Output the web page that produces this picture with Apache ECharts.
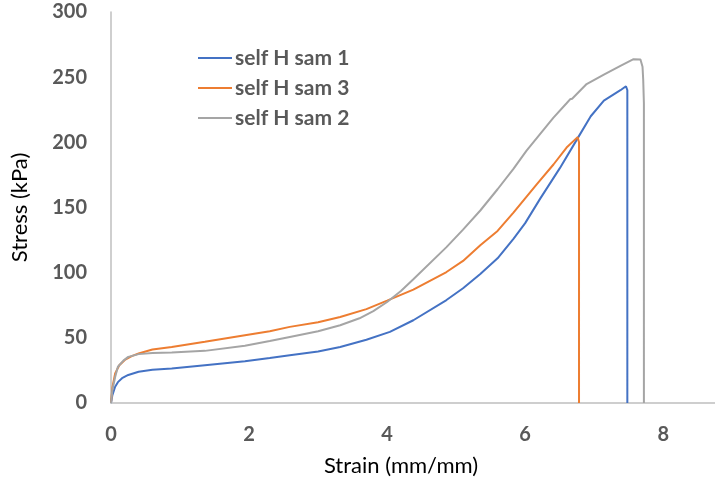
<!DOCTYPE html>
<html>
<head>
<meta charset="utf-8">
<script src="https://cdn.jsdelivr.net/npm/echarts@6/dist/echarts.min.js"></script>
<style>html,body{margin:0;padding:0;background:#fff}#c{width:715px;height:483px}</style>
</head>
<body>
<div id="c"></div>
<script>
// Series data: [strain (mm/mm), stress (kPa)]
var sam1 = [[0,0],[0.02,6],[0.06,12.5],[0.1,16],[0.16,19],[0.25,21.5],[0.4,24],[0.6,25.5],[0.88,26.5],[1.36,29],[1.94,32],[2.3,34.5],[2.59,36.7],[3.0,39.5],[3.32,43],[3.7,48.5],[4.04,54.6],[4.38,63.5],[4.86,79],[5.1,88],[5.35,99],[5.6,111],[5.83,126],[6.0,138],[6.22,157],[6.5,180],[6.77,204],[6.95,220],[7.14,232],[7.38,240],[7.46,243],[7.48,240],[7.48,0]];
var sam3 = [[0,0],[0.02,12],[0.06,22.7],[0.12,29],[0.2,33],[0.3,36],[0.4,38],[0.6,41],[0.88,43],[1.36,47],[1.94,52],[2.3,55],[2.59,58.4],[3.0,62],[3.32,66],[3.7,72],[4.0,78.5],[4.38,87],[4.86,100.5],[5.1,109],[5.35,121],[5.6,132],[5.83,146],[6.0,157],[6.17,168],[6.41,183],[6.6,196],[6.76,204],[6.78,200],[6.78,0]];
var sam2 = [[0,0],[0.02,10],[0.06,20],[0.1,27.8],[0.18,32.5],[0.25,35.4],[0.4,37.5],[0.6,38.3],[0.88,38.8],[1.36,40],[1.94,44],[2.3,47.5],[2.59,50.7],[3.0,55],[3.32,59.7],[3.6,65],[3.8,70.5],[4.0,77.5],[4.2,86],[4.38,95],[4.86,119.6],[5.1,133],[5.35,147.7],[5.6,164],[5.83,179.6],[6.02,193.6],[6.41,219],[6.6,230],[6.65,233],[6.68,233.5],[6.89,244.7],[7.14,252],[7.38,258.7],[7.57,263.8],[7.67,263.5],[7.7,258],[7.71,248],[7.72,230],[7.72,0]];
var seriesNames = ['self H sam 1','self H sam 3','self H sam 2'];
var seriesColors = ['#4472C4','#ED7D31','#A5A5A5'];
var xTicks = [0,2,4,6,8];
var yTicks = [0,50,100,150,200,250,300];

var chart = echarts.init(document.getElementById('c'));
var FONT = 'Lato';
chart.setOption({
  animation: false,
  textStyle: {fontFamily: FONT},
  grid: {left: 111, right: 0, top: 12, bottom: 80},
  legend: {
    orient: 'vertical', left: 198, top: 47, icon: 'rect', padding: 0,
    itemWidth: 34, itemHeight: 2, itemGap: 8,
    textStyle: {fontFamily: FONT, fontWeight: 'bold', fontSize: 21, color: '#595959', lineHeight: 22, padding: [0,0,0,-2]},
    data: seriesNames
  },
  xAxis: {
    type: 'value', min: 0, max: 8.75, interval: 2,
    name: 'Strain (mm/mm)', nameLocation: 'middle', nameGap: 52,
    nameTextStyle: {fontFamily: FONT, fontSize: 22, color: '#000', padding: [0,24,0,0]},
    axisLine: {lineStyle: {color: '#BFBFBF', width: 1.5}},
    axisTick: {show: false}, splitLine: {show: false},
    axisLabel: {showMaxLabel: false, margin: 22, fontFamily: FONT, fontWeight: 'bold', fontSize: 20, color: '#595959',
      formatter: function (v) { return xTicks.indexOf(v) >= 0 ? String(v) : ''; }}
  },
  yAxis: {
    type: 'value', min: 0, max: 300, interval: 50,
    name: 'Stress (kPa)', nameLocation: 'middle', nameGap: 80,
    nameTextStyle: {fontFamily: FONT, fontSize: 22, color: '#000'},
    axisLine: {show: true, lineStyle: {color: '#BFBFBF', width: 1.5}},
    axisTick: {show: false}, splitLine: {show: false},
    axisLabel: {margin: 24, fontFamily: FONT, fontWeight: 'bold', fontSize: 20, color: '#595959',
      formatter: function (v) { return yTicks.indexOf(v) >= 0 ? String(v) : ''; }}
  },
  series: [sam1, sam3, sam2].map(function (d, i) {
    return {
      name: seriesNames[i], type: 'line', data: d, showSymbol: false, symbol: 'none',
      color: seriesColors[i], lineStyle: {width: 2, color: seriesColors[i]}
    };
  })
});
</script>
</body>
</html>
